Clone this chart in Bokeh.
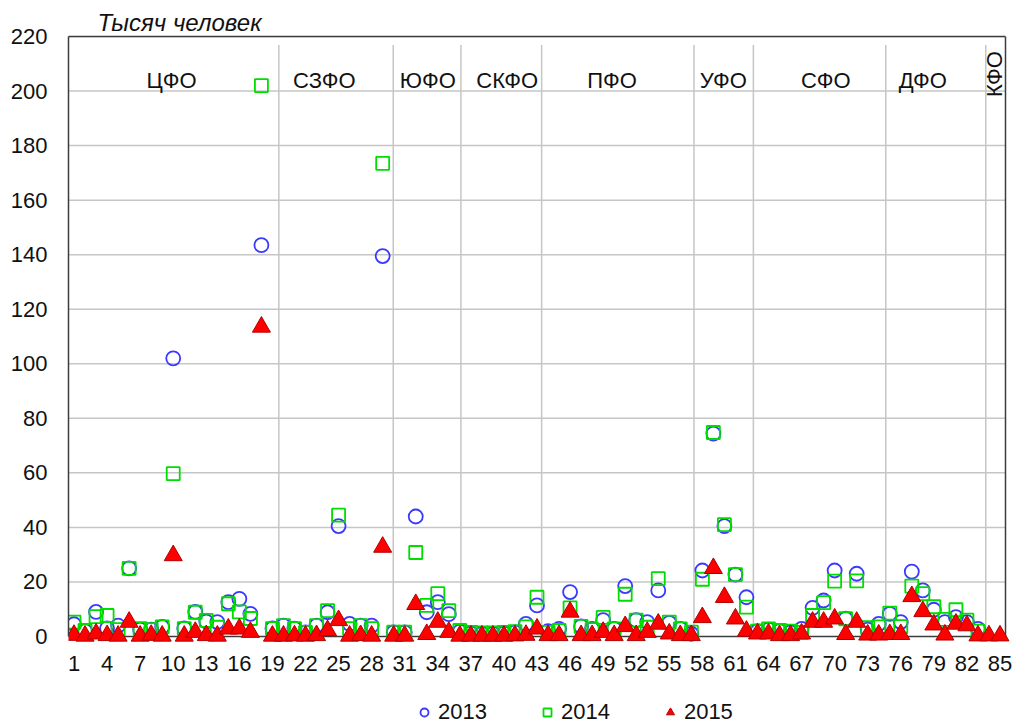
import numpy as np
from bokeh.plotting import figure
from bokeh.models import (Range1d, FixedTicker, Label, Legend, LegendItem,
                          ColumnDataSource, LabelSet, Title, LinearAxis)
from bokeh.embed import file_html
from bokeh.resources import INLINE
from bokeh.core.properties import value

# ---------------- data ----------------
regions = list(range(1, 86))

y2013 = [4.5, 2.0, 9.0, 3.0, 4.0, 25.0, 2.5, 2.5, 3.5, 102.0,
         3.0, 9.0, 5.5, 5.3, 12.6, 13.8, 8.3, 143.5, 3.0, 4.0,
         2.9, 1.5, 4.0, 8.9, 40.5, 4.6, 4.0, 4.0, 139.5, 1.5,
         1.5, 44.0, 8.9, 12.6, 8.2, 1.8, 1.2, 1.0, 1.0, 1.2,
         1.5, 4.6, 11.4, 2.0, 2.8, 16.3, 3.7, 2.8, 6.0, 2.8,
         18.5, 6.0, 5.3, 16.9, 5.0, 2.8, 1.0, 24.2, 74.4, 40.5,
         22.7, 14.4, 2.0, 2.5, 2.0, 1.5, 2.8, 10.5, 13.2, 24.2,
         6.5, 23.0, 2.5, 4.6, 8.3, 5.3, 23.8, 16.9, 9.8, 5.3,
         7.1, 5.3, 2.8, float("nan"), float("nan")]

y2014 = [5.3, 2.2, 7.3, 7.7, 2.5, 25.0, 2.9, 2.5, 3.5, 59.7,
         2.9, 8.9, 5.9, 3.4, 12.0, 9.0, 6.6, 202.0, 2.9, 4.0,
         2.9, 1.5, 4.0, 9.5, 44.5, 2.9, 4.0, 2.9, 173.5, 1.6,
         1.6, 30.8, 11.4, 15.7, 9.5, 2.2, 1.5, 1.3, 1.3, 1.5,
         1.8, 3.5, 14.4, 1.5, 2.2, 10.5, 3.7, 2.5, 7.0, 2.8,
         15.5, 6.0, 3.4, 21.2, 5.3, 2.8, 1.6, 21.0, 74.8, 41.0,
         22.7, 10.8, 2.0, 2.8, 2.2, 2.0, 1.5, 7.7, 12.4, 20.3,
         6.5, 20.4, 3.2, 3.5, 8.6, 3.6, 18.5, 15.7, 10.9, 6.3,
         9.8, 6.0, 2.0, float("nan"), float("nan")]

y2015 = [0.5, 0.2, 1.0, 0.4, 0.2, 5.3, 0.2, 0.5, 0.2, 29.7,
         0.2, 1.6, 0.4, 0.2, 2.8, 2.8, 1.6, 113.5, 0.2, 0.2,
         0.3, 0.2, 0.4, 2.2, 5.9, 0.2, 0.4, 0.2, 32.8, 0.2,
         0.2, 11.8, 0.8, 5.3, 1.6, 0.2, 0.2, 0.2, 0.2, 0.2,
         0.3, 0.5, 2.8, 0.4, 0.4, 9.0, 0.4, 0.4, 1.6, 0.4,
         3.7, 0.4, 1.6, 4.6, 1.0, 0.4, 0.4, 7.0, 25.0, 14.4,
         6.5, 2.0, 1.0, 1.0, 0.4, 0.4, 1.0, 5.3, 5.3, 6.5,
         0.8, 5.3, 0.6, 0.6, 0.8, 0.8, 14.7, 9.2, 4.3, 0.6,
         4.6, 4.0, 0.3, 0.3, 0.3]

districts = ["ЦФО", "СЗФО", "ЮФО", "СКФО", "ПФО", "УФО", "СФО", "ДФО"]
district_label_x = [9.85, 23.7, 33.1, 40.3, 49.8, 59.9, 69.2, 78.0]
district_bounds = [19.58, 29.96, 36.1, 43.42, 57.24, 62.63, 74.64, 83.71]
last_district = "КФО"

x_ticks = [1, 4, 7, 10, 13, 16, 19, 22, 25, 28, 31, 34, 37, 40, 43,
           46, 49, 52, 55, 58, 61, 64, 67, 70, 73, 76, 79, 82, 85]
x_tick_labels = ["1", "4", "7", "10", "13", "16", "19", "22", "25", "28",
                 "31", "34", "37", "40", "43", "46", "49", "52", "55", "58",
                 "61", "64", "67", "70", "73", "76", "79", "82", "85"]
y_ticks = [0, 20, 40, 60, 80, 100, 120, 140, 160, 180, 200, 220]
unit_label = "Тысяч человек"
series_names = ["2013", "2014", "2015"]

# ---------------- figure ----------------
FONT = "Liberation Sans"
FS = "22px"
GRID = "#c6c6c6"
TXT = "#111111"
AX = "#3c3c3c"

X_MIN, X_MAX = 0.5, 85.5          # category area of the plot
Y_MAX = 220
PX_PER_X = 937 / (X_MAX - X_MIN)  # plot-area width / categories
PX_PER_Y = 600 / Y_MAX            # plot-area height / value span
# the frame also covers the label strip below zero and the right margin,
# so that labels near the edges are not clipped
X_END = X_MIN + 951 / PX_PER_X
Y_MIN = Y_MAX - 688 / PX_PER_Y

src = ColumnDataSource(dict(x=regions,
                            a=np.array(y2013, dtype=float),
                            b=np.array(y2014, dtype=float),
                            c=np.array(y2015, dtype=float)))

p = figure(width=1019, height=724, output_backend="svg", toolbar_location=None,
           x_range=Range1d(X_MIN, X_END), y_range=Range1d(Y_MIN, Y_MAX),
           x_axis_type=None,
           min_border_left=68, min_border_right=0, min_border_top=36,
           min_border_bottom=0)
p.title = Title(text=unit_label, align="left", offset=29, standoff=1,
                text_font=FONT, text_font_size="24px", text_font_style="italic",
                text_color=TXT)
p.outline_line_color = None
p.background_fill_color = "white"
p.border_fill_color = "white"
p.xgrid.visible = False
p.ygrid.visible = False

# left value axis
p.yaxis.ticker = FixedTicker(ticks=y_ticks)
p.yaxis.bounds = (0, Y_MAX)
ya = p.yaxis[0]
ya.axis_line_color = AX
ya.axis_line_width = 1.5
ya.major_tick_line_color = None
ya.minor_tick_line_color = None
ya.major_tick_out = 0
ya.major_tick_in = 0
ya.major_label_text_font = FONT
ya.major_label_text_font_size = FS
ya.major_label_text_color = TXT
ya.major_label_standoff = 21

# top edge of the plot box
top_ax = LinearAxis(ticker=FixedTicker(ticks=[]), bounds=(X_MIN, X_MAX),
                    axis_line_color=AX, axis_line_width=1.5,
                    major_tick_line_color=None, minor_tick_line_color=None,
                    major_tick_out=0, major_label_standoff=0)
p.add_layout(top_ax, "above")

# horizontal grid lines (limited to the plot box)
grid_y = y_ticks[1:]
p.segment(x0=[X_MIN] * len(grid_y), y0=grid_y,
          x1=[X_MAX] * len(grid_y), y1=grid_y,
          line_color=GRID, line_width=1.5)

# district separators
p.segment(x0=district_bounds, y0=[0] * len(district_bounds),
          x1=district_bounds, y1=[216.9] * len(district_bounds),
          line_color=GRID, line_width=1.5)

# bottom (category axis) and right edge of the box
p.segment(x0=[X_MIN, X_MAX], y0=[0, 0], x1=[X_MAX, X_MAX], y1=[0, Y_MAX],
          line_color=AX, line_width=1.5)

r13 = p.scatter("x", "a", source=src, marker="circle", size=14,
                fill_color=None, line_color="#3a3aff", line_width=1.8)
r14 = p.scatter("x", "b", source=src, marker="square", size=13,
                fill_color=None, line_color="#00dd00", line_width=1.8)
r15 = p.scatter("x", "c", source=src, marker="triangle", size=18,
                fill_color="#ff0000", line_color="#b00000", line_width=1)

# category tick labels under the zero line
tsrc = ColumnDataSource(dict(x=x_ticks, y=[-9.9] * len(x_ticks),
                             t=x_tick_labels))
p.add_layout(LabelSet(x="x", y="y", text="t", source=tsrc,
                      text_font=value(FONT), text_font_size=FS,
                      text_align="center", text_baseline="middle",
                      text_color=TXT))

# district labels
dsrc = ColumnDataSource(dict(x=district_label_x, y=[203.7] * len(districts),
                             t=districts))
p.add_layout(LabelSet(x="x", y="y", text="t", source=dsrc,
                      text_font=value(FONT), text_font_size=FS,
                      text_align="center", text_baseline="middle",
                      text_color=TXT))
p.add_layout(Label(x=84.5, y=206.2, text=last_district, angle=np.pi / 2,
                   text_font=FONT, text_font_size=FS, text_align="center",
                   text_baseline="middle", text_color=TXT))

legend = Legend(items=[LegendItem(label=series_names[0], renderers=[r13]),
                       LegendItem(label=series_names[1], renderers=[r14]),
                       LegendItem(label=series_names[2], renderers=[r15])],
                location=(346, -1), orientation="horizontal",
                border_line_color=None, background_fill_alpha=0,
                label_text_font=FONT, label_text_font_size=FS,
                label_text_color=TXT,
                glyph_width=20, glyph_height=20, label_standoff=4,
                spacing=50, padding=0, margin=0)
p.add_layout(legend, "center")

open("out.html", "w").write(file_html(p, INLINE))
